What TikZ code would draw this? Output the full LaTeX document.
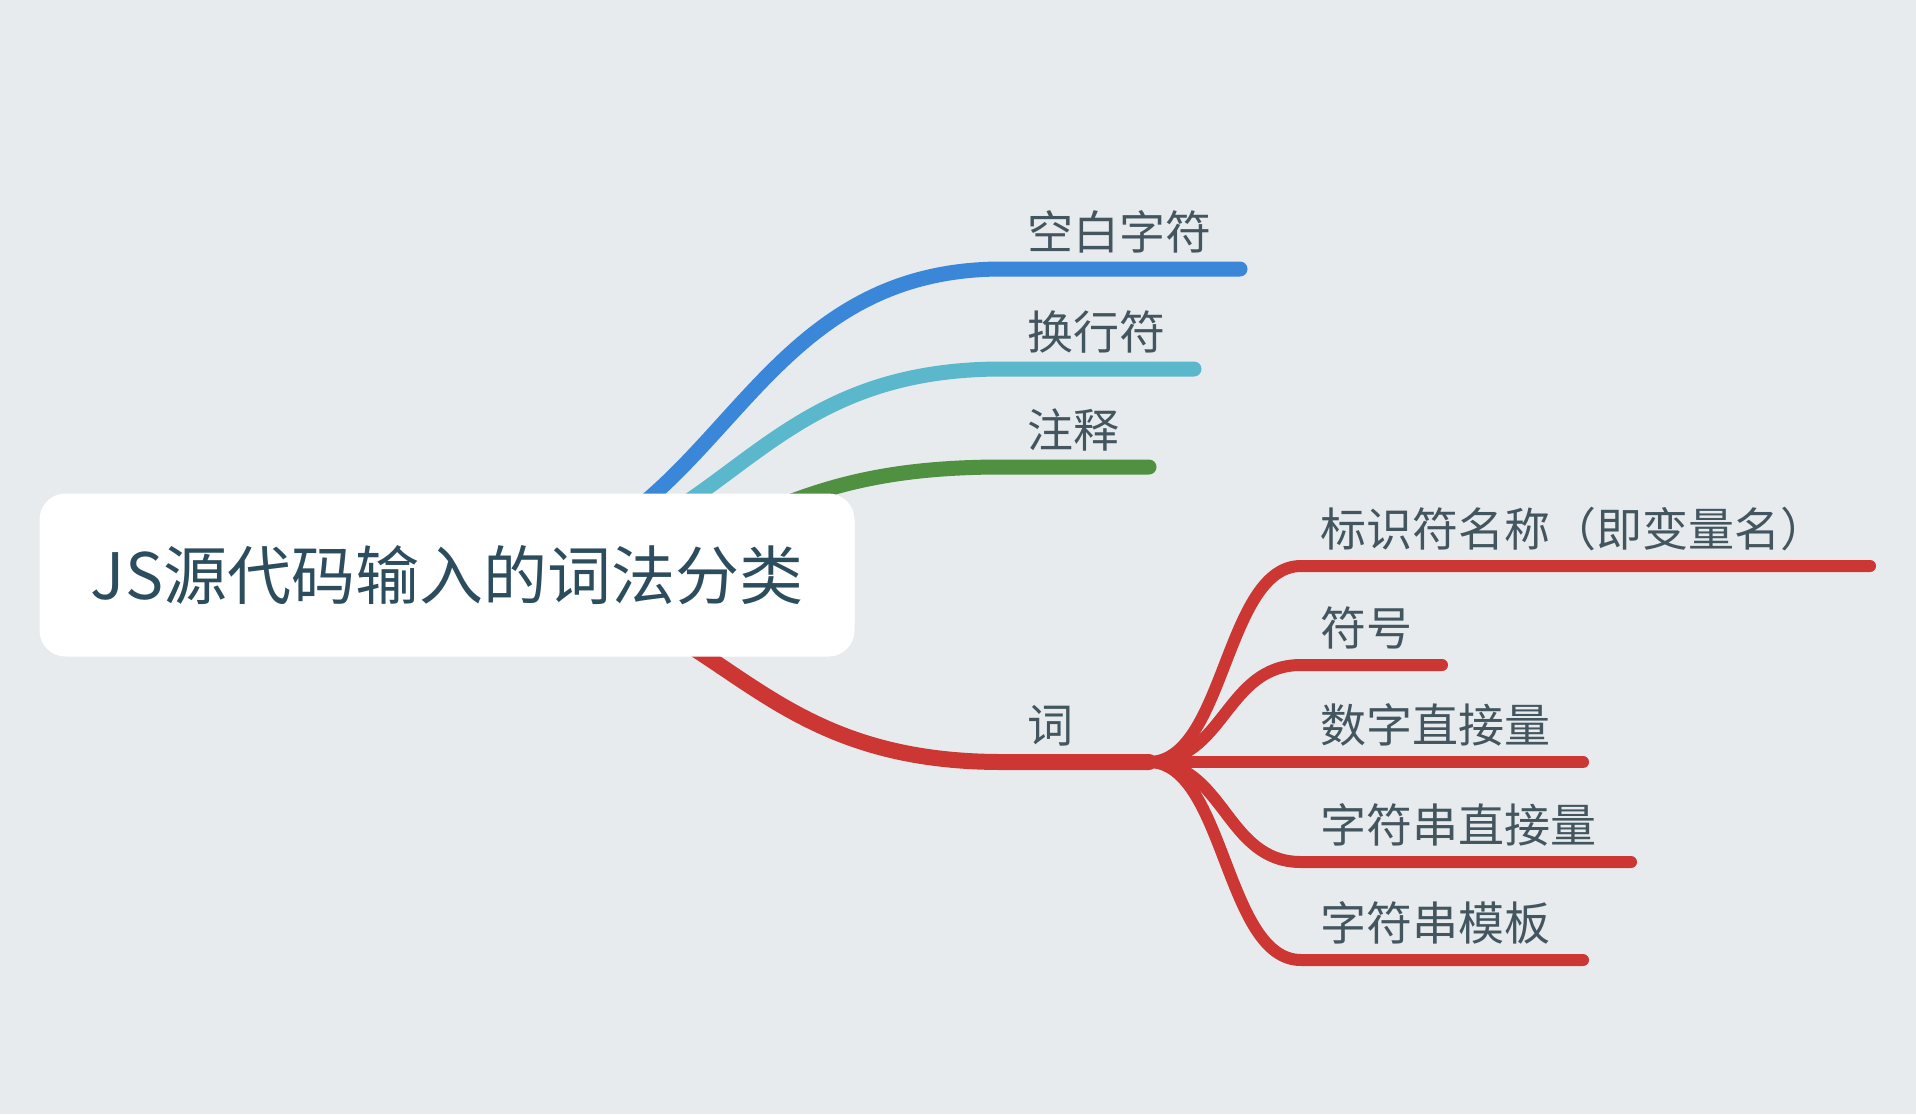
\documentclass[tikz,border=0pt]{standalone}
\usepackage{fontspec}
\setmainfont{Noto Sans CJK SC}
\definecolor{bgc}{HTML}{E7EBEE}
\definecolor{cblue}{HTML}{3A87D9}
\definecolor{ccyan}{HTML}{5BB8CC}
\definecolor{cgreen}{HTML}{4F9140}
\definecolor{cred}{HTML}{CC3633}
\definecolor{roottext}{HTML}{2C4D5E}
\definecolor{labtext}{HTML}{435660}
\tikzset{
  branch/.style={line width=15pt, line cap=round},
  subbranch/.style={line width=12pt, line cap=round},
  lab/.style={anchor=base west, inner sep=0pt, text=labtext, font=\fontsize{46}{50}\selectfont},
}
\begin{document}
\begin{tikzpicture}[x=1pt,y=-1pt]
\fill[bgc] (0,0) rectangle (1916,1114);
\useasboundingbox (0,0) rectangle (1916,1114);
% anchors
\coordinate (rc) at (447,575);
\coordinate (b1) at (1002,269); \coordinate (e1) at (1240,269);
\coordinate (b2) at (1002,369); \coordinate (e2) at (1194,369);
\coordinate (b3) at (1002,467); \coordinate (e3) at (1149,467);
\coordinate (b4) at (1002,762); \coordinate (w)  at (1149,762);
% first-level branches
\draw[branch, cblue] (rc) .. controls (724,575) and (724,269) .. (b1) -- (e1);
\draw[branch, ccyan] (rc) .. controls (730,575) and (730,369) .. (b2) -- (e2);
\draw[branch, cgreen] (rc) .. controls (760,575) and (735,467) .. (b3) -- (e3);
% sub branches
\coordinate (s1) at (1301,566); \coordinate (t1) at (1870,566);
\coordinate (s2) at (1301,665); \coordinate (t2) at (1442,665);
\coordinate (s3) at (1301,762); \coordinate (t3) at (1583,762);
\coordinate (s4) at (1301,862); \coordinate (t4) at (1631,862);
\coordinate (s5) at (1301,960); \coordinate (t5) at (1583,960);
\draw[subbranch, cred] (w) .. controls (1225,762) and (1225,566) .. (s1) -- (t1);
\draw[subbranch, cred] (w) .. controls (1225,762) and (1225,665) .. (s2) -- (t2);
\draw[subbranch, cred] (w) -- (s3) -- (t3);
\draw[subbranch, cred] (w) .. controls (1225,762) and (1225,862) .. (s4) -- (t4);
\draw[subbranch, cred] (w) .. controls (1225,762) and (1225,960) .. (s5) -- (t5);
\draw[branch, line width=16pt, cred] (rc) .. controls (724,575) and (724,762) .. (b4) -- (w);
% root
\node[fill=white, rounded corners=26pt, minimum width=815pt, minimum height=163pt,
      inner sep=0pt, text=roottext, font=\fontsize{64}{70}\selectfont] (root) at (rc) {JS源代码输入的词法分类};
% labels
\node[lab] (l1) at (1027,249) {空白字符};
\node[lab] (l2) at (1027,349) {换行符};
\node[lab] (l3) at (1027,447) {注释};
\node[lab] (l4) at (1027,742) {词};
\node[lab] (m1) at (1320,546) {标识符名称（即变量名）};
\node[lab] (m2) at (1320,645) {符号};
\node[lab] (m3) at (1320,742) {数字直接量};
\node[lab] (m4) at (1320,842) {字符串直接量};
\node[lab] (m5) at (1320,940) {字符串模板};
\end{tikzpicture}
\end{document}
